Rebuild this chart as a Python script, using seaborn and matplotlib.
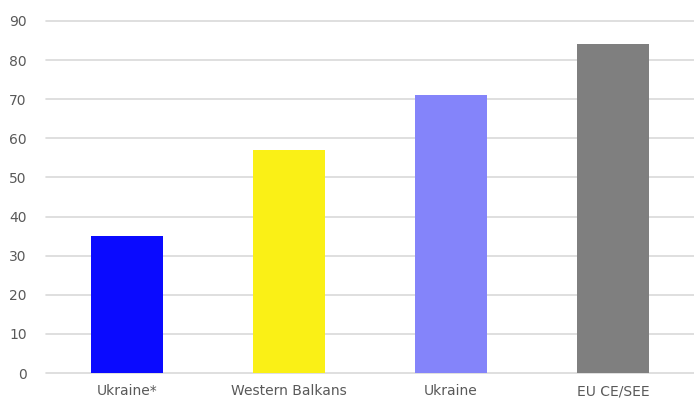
import pandas as pd
import seaborn as sns
import matplotlib.pyplot as plt

regions = ["Ukraine*", "Western Balkans", "Ukraine", "EU CE/SEE"]
values = [35, 57, 71, 84]
colors = ["#0A0AFF", "#FAF016", "#8484FA", "#7F7F7F"]

df = pd.DataFrame({"region": regions, "value": values})

sns.set_style("white")
plt.rcParams["font.family"] = ["DejaVu Sans"]

fig = plt.figure(figsize=(6.94, 4.03), dpi=100)
ax = fig.add_axes([0.0663, 0.0744, 0.9337, 0.8735])
sns.barplot(data=df, x="region", y="value", hue="region", palette=colors,
            width=0.45, saturation=1, legend=False, linewidth=0, ax=ax, zorder=3)

ax.set_ylim(0, 90)
ax.set_xlim(-0.5, 3.5)
ax.set_yticks(range(0, 91, 10))
ax.yaxis.grid(True, color="#D9D9D9", linewidth=1.2, zorder=0)
for gl in ax.get_ygridlines():
    gl.set_clip_on(False)
ax.set_axisbelow(True)
for s in ax.spines.values():
    s.set_visible(False)
ax.tick_params(axis="both", length=0, colors="#595959", labelsize=10)
ax.tick_params(axis="y", pad=14)
ax.tick_params(axis="x", pad=8)
ax.set_xlabel("")
ax.set_ylabel("")

plt.savefig("out.png", dpi=100)
